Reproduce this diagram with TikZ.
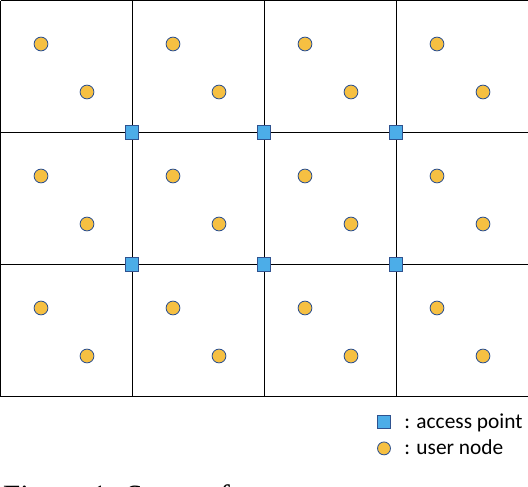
\documentclass[tikz,border=0pt]{standalone}
\usepackage{fontspec}
\setmainfont{Liberation Serif}
\newfontfamily\legendfont{Carlito}
\usetikzlibrary{positioning}
\definecolor{userfill}{RGB}{246,192,66}
\definecolor{apfill}{RGB}{76,173,232}
\definecolor{nodeedge}{RGB}{47,82,143}

\begin{document}
\begin{tikzpicture}[every node/.style={inner sep=0pt},
  usernode/.style={circle,draw=nodeedge,fill=userfill,line width=.6pt,minimum size=9.8pt},
  apnode/.style={rectangle,draw=nodeedge,fill=apfill,line width=.6pt,minimum size=9.8pt},
  gridline/.style={line width=.7pt},
  keytext/.style={anchor=base west,font=\legendfont\fontsize{15.2}{18}\selectfont}]
\useasboundingbox (0,0) rectangle (13.2,12.15);
% grid of cells
\coordinate (t0) at (0.0150,12.1350);
\coordinate (t1) at (3.3000,12.1350);
\coordinate (t2) at (6.6000,12.1350);
\coordinate (t3) at (9.9000,12.1350);
\coordinate (t4) at (13.2000,12.1350);
\coordinate (b0) at (0.0150,2.2350);
\coordinate (b1) at (3.3000,2.2350);
\coordinate (b2) at (6.6000,2.2350);
\coordinate (b3) at (9.9000,2.2350);
\coordinate (b4) at (13.2000,2.2350);
\coordinate (l1) at (0.0000,8.8350);
\coordinate (r1) at (13.2000,8.8350);
\coordinate (l2) at (0.0000,5.5350);
\coordinate (r2) at (13.2000,5.5350);
\draw[gridline] (t0)--(t4);
\draw[gridline] (l1)--(r1);
\draw[gridline,line width=1pt] (l2)--(r2);
\draw[gridline] (b0)--(b4);
\draw[gridline] (t0)--(b0);
\draw[gridline] (t1)--(b1);
\draw[gridline] (t2)--(b2);
\draw[gridline] (t3)--(b3);
% access points
\node[apnode] (ap1) at (3.3000,8.8350) {};
\node[apnode] (ap2) at (6.6000,8.8350) {};
\node[apnode] (ap3) at (9.9000,8.8350) {};
\node[apnode] (ap4) at (3.3000,5.5350) {};
\node[apnode] (ap5) at (6.6000,5.5350) {};
\node[apnode] (ap6) at (9.9000,5.5350) {};
% user nodes, two per cell
\node[usernode] (u11a) at (1.0250,11.0500) {};
\node[usernode] (u11b) at (2.1750,9.8500) {};
\node[usernode] (u12a) at (4.3250,11.0500) {};
\node[usernode] (u12b) at (5.4750,9.8500) {};
\node[usernode] (u13a) at (7.6250,11.0500) {};
\node[usernode] (u13b) at (8.7750,9.8500) {};
\node[usernode] (u14a) at (10.9250,11.0500) {};
\node[usernode] (u14b) at (12.0750,9.8500) {};
\node[usernode] (u21a) at (1.0250,7.7500) {};
\node[usernode] (u21b) at (2.1750,6.5500) {};
\node[usernode] (u22a) at (4.3250,7.7500) {};
\node[usernode] (u22b) at (5.4750,6.5500) {};
\node[usernode] (u23a) at (7.6250,7.7500) {};
\node[usernode] (u23b) at (8.7750,6.5500) {};
\node[usernode] (u24a) at (10.9250,7.7500) {};
\node[usernode] (u24b) at (12.0750,6.5500) {};
\node[usernode] (u31a) at (1.0250,4.4500) {};
\node[usernode] (u31b) at (2.1750,3.2500) {};
\node[usernode] (u32a) at (4.3250,4.4500) {};
\node[usernode] (u32b) at (5.4750,3.2500) {};
\node[usernode] (u33a) at (7.6250,4.4500) {};
\node[usernode] (u33b) at (8.7750,3.2500) {};
\node[usernode] (u34a) at (10.9250,4.4500) {};
\node[usernode] (u34b) at (12.0750,3.2500) {};
% legend
\node[apnode,minimum size=9.2pt] (keyap) at (9.6000,1.6000) {};
\node[usernode,minimum size=9.2pt] (keyuser) at (9.6000,0.9400) {};
\node[keytext] (keyaptext) at (10.1000,1.4500) {: access point};
\node[keytext] (keyusertext) at (10.1000,0.8000) {: user node};
% caption, cut at the lower edge
\begin{scope}
\clip (0,0) rectangle (13.2,12.15);
\node[anchor=base west,font=\fontsize{22}{26}\selectfont] (caption) at (0.0700,-0.5200) {Figure 1: Setup of};
\end{scope}
\end{tikzpicture}
\end{document}
